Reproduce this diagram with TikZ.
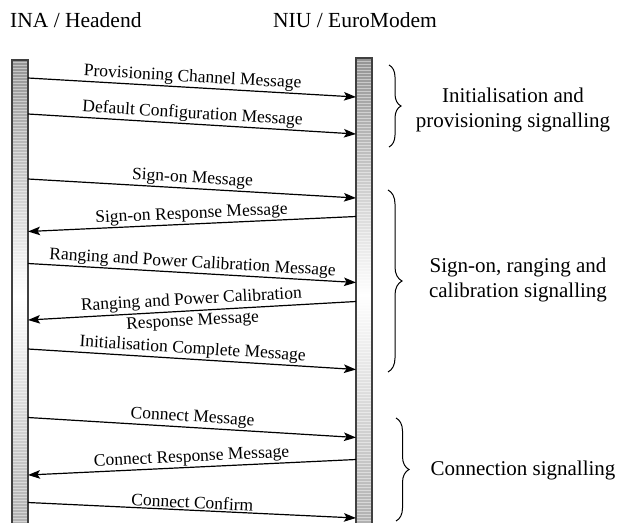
\documentclass[tikz,border=0pt]{standalone}
\usepackage{fontspec}
\setmainfont{Liberation Serif}
\usetikzlibrary{arrows.meta,decorations.pathreplacing}
\begin{document}
\begin{tikzpicture}[x=1pt,y=-1pt,
  lifeline/.style={draw=black!75, line width=1.4pt, top color=black!42, bottom color=black!32, middle color=white, minimum width=16pt, inner sep=0pt, outer sep=0pt, anchor=north west},
  msg/.style={-{Stealth[length=12pt,width=8.5pt,inset=2.5pt]}, line width=1.2pt},
  lbl/.style={font=\fontsize{17.5}{17}\selectfont, sloped, midway, above, inner sep=1.2pt},
  lblc/.style={font=\fontsize{17.5}{16.5}\selectfont, sloped, midway, align=center, inner sep=0pt},
  hdr/.style={font=\fontsize{21.5}{21.5}\selectfont, inner sep=0pt, anchor=base west},
  grp/.style={font=\fontsize{21}{25.5}\selectfont, align=center, inner sep=0pt},
  brc/.style={decorate, decoration={brace, amplitude=#1}, line width=1pt}
]
\useasboundingbox (0,0) rectangle (628,522);

% headers
\node[hdr] (hA) at (10,27) {INA / Headend};
\node[hdr] (hB) at (273,27) {NIU / EuroModem};

% lifelines
\node[lifeline, minimum height=472pt] (L) at (12,60) {};
\node[lifeline, minimum height=474pt] (R) at (356,58) {};
\begin{scope}
  \clip (12.7,60.7) rectangle (27.3,523);
  \foreach \yy in {62,65,...,523} \draw[white, opacity=0.45, line width=0.7pt] (12,\yy) -- (28,\yy);
\end{scope}
\begin{scope}
  \clip (356.7,58.7) rectangle (371.3,523);
  \foreach \yy in {61,64,...,523} \draw[white, opacity=0.45, line width=0.7pt] (356,\yy) -- (372,\yy);
\end{scope}
\draw[draw=black!75, line width=1.4pt] (L.south west) -- (L.north west) -- (L.north east) -- (L.south east);
\draw[draw=black!75, line width=1.4pt] (R.south west) -- (R.north west) -- (R.north east) -- (R.south east);

% messages
\draw[msg] (L.east |- 0,78) -- node[lbl] {Provisioning Channel Message} (R.west |- 0,97);
\draw[msg] (L.east |- 0,114) -- node[lbl] {Default Configuration Message} (R.west |- 0,134);
\draw[msg] (L.east |- 0,179) -- node[lbl] {Sign-on Message} (R.west |- 0,198);
\draw[msg] (R.west |- 0,216.5) -- node[lbl] {Sign-on Response Message} (L.east |- 0,231.5);
\draw[msg] (L.east |- 0,263.5) -- node[lbl] {Ranging and Power Calibration Message} (R.west |- 0,282.5);
\draw[msg] (R.west |- 0,301.5) -- node[lblc] {Ranging and Power Calibration\\[4.5pt]Response Message} (L.east |- 0,320);
\draw[msg] (L.east |- 0,349) -- node[lbl] {Initialisation Complete Message} (R.west |- 0,369.5);
\draw[msg] (L.east |- 0,417.5) -- node[lbl] {Connect Message} (R.west |- 0,437.5);
\draw[msg] (R.west |- 0,459.5) -- node[lbl] {Connect Response Message} (L.east |- 0,475);
\draw[msg] (L.east |- 0,502.5) -- node[lbl] {Connect Confirm} (R.west |- 0,518);

% braces and groups
\coordinate (b1t) at (389,65);  \coordinate (b1b) at (389,147);
\coordinate (b2t) at (388,190); \coordinate (b2b) at (388,372);
\coordinate (b3t) at (396,418); \coordinate (b3b) at (396,521);
\draw[brc=12pt] (b1t) -- (b1b);
\draw[brc=14pt] (b2t) -- (b2b);
\draw[brc=13pt] (b3t) -- (b3b);
\node[grp] (g1) at (513,110) {Initialisation and\\provisioning signalling};
\node[grp] (g2) at (518,280) {Sign-on, ranging and\\calibration signalling};
\node[grp] (g3) at (523,470) {Connection signalling};
\end{tikzpicture}
\end{document}
